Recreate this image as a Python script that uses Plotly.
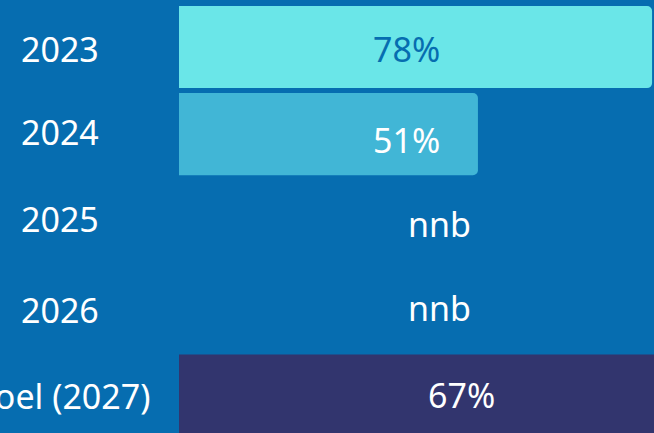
import plotly.graph_objects as go

# ---- data ----
categories = ["2023", "2024", "2025", "2026", "Doel (2027)"]
values = [78, 51, None, None, 67]          # percentages (None = nnb, not yet known)
value_labels = ["78%", "51%", "nnb", "nnb", "67%"]
goal_band = 100                             # goal row drawn as full-width band

# ---- styles ----
BG = "#066db0"
bar_colors = ["#6ae6e8", "#41b6d6", BG, BG]
goal_color = "#32356e"
label_colors = [BG, "white", "white", "white", "white"]
label_x = [40, 40, 45.1, 45.1, 48.5]       # label anchor positions (data units)
label_yshift = [-2, -6, -3, 0, 1]
cat_yshift = [-2, 2, 2, -2, 0]
FONT = "Noto Sans"

fig = go.Figure()

yrs = categories[:4]
fig.add_trace(go.Bar(
    y=yrs, x=[v if v is not None else 0 for v in values[:4]],
    orientation="h", marker=dict(color=bar_colors, line=dict(width=0)),
    width=0.943, hoverinfo="skip", showlegend=False,
))
fig.add_trace(go.Bar(
    y=[categories[4]], x=[goal_band], orientation="h",
    marker=dict(color=goal_color, line=dict(width=0)),
    width=0.943, hoverinfo="skip", showlegend=False,
))

for i, cat in enumerate(categories):
    fig.add_annotation(x=label_x[i], y=i, xref="x", yref="y",
                       text=value_labels[i], showarrow=False,
                       xanchor="center", yanchor="middle", yshift=label_yshift[i],
                       font=dict(family=FONT, size=34, color=label_colors[i]))
    fig.add_annotation(x=-0.25, y=i, xref="paper", yref="y",
                       text=cat, showarrow=False,
                       xanchor="center", yanchor="middle", yshift=cat_yshift[i],
                       font=dict(family=FONT, size=34, color="white"))

fig.update_layout(
    width=654, height=433,
    margin=dict(l=179, r=0, t=0, b=0),
    paper_bgcolor=BG, plot_bgcolor=BG,
    barcornerradius=5,
    bargap=0.06,
    xaxis=dict(range=[4.65, 78.3], visible=False, showgrid=False, zeroline=False),
    yaxis=dict(type="category", categoryorder="array", categoryarray=categories,
               range=[4.43, -0.54], visible=False, showgrid=False, zeroline=False),
)

fig.write_html("out.html", config={"displayModeBar": False},
               post_script="document.body.style.margin='0';document.body.style.overflow='hidden';")
